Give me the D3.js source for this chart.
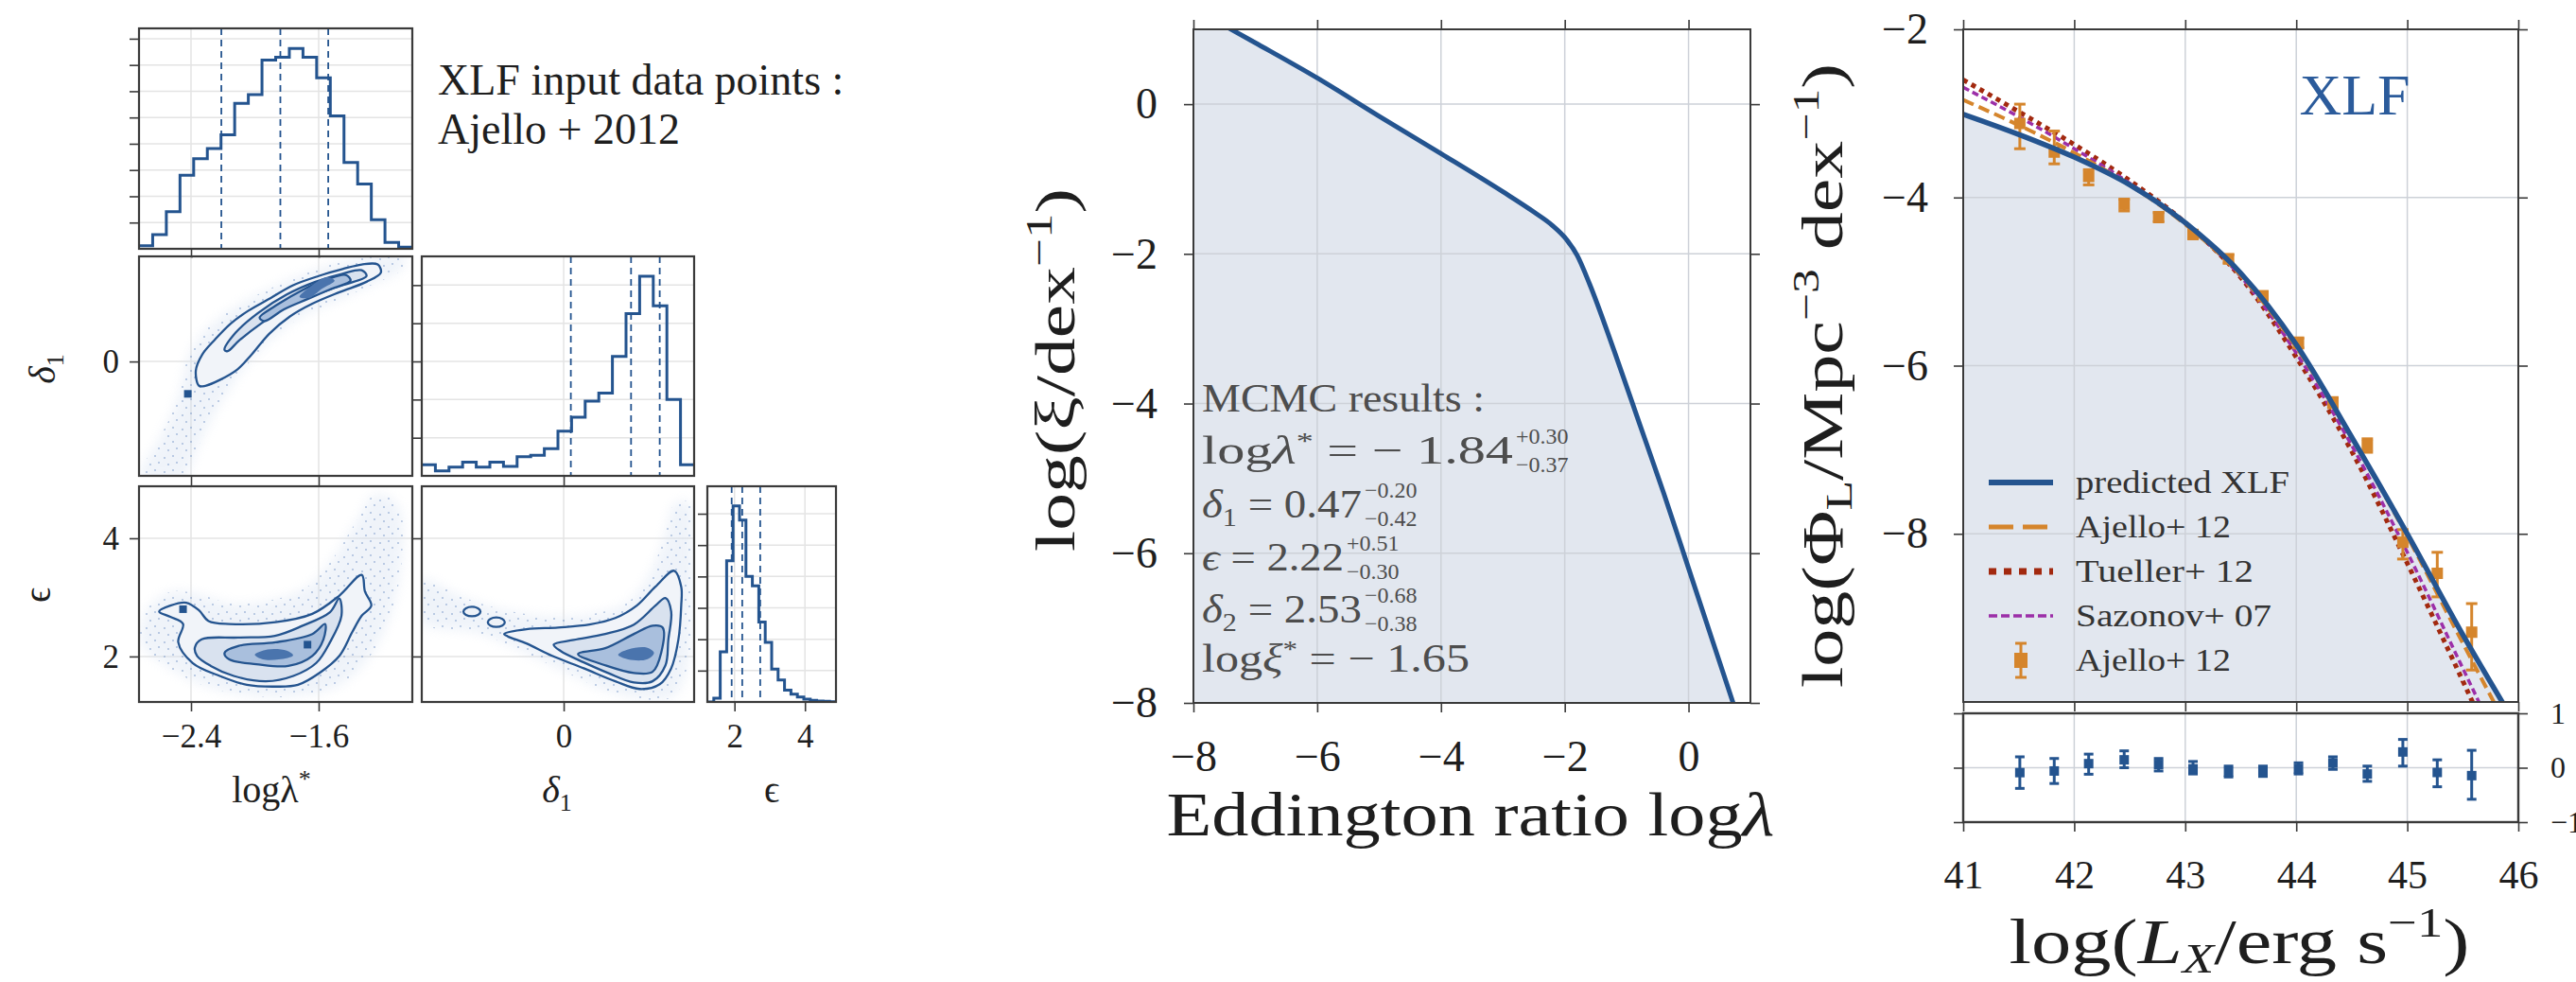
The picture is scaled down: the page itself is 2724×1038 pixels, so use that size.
<!DOCTYPE html>
<html><head><meta charset="utf-8">
<script src="https://cdn.jsdelivr.net/npm/d3@7"></script>
<style>
html,body{margin:0;padding:0;background:#fff;}
svg text{font-family:"Liberation Serif","DejaVu Serif",serif;}
</style></head>
<body>
<svg id="fig" width="2724" height="1038" xmlns="http://www.w3.org/2000/svg"></svg>
<script>
// ======================= DATA =======================
// --- corner plot parameter ranges and ticks
const lamRange = [-2.726, -1.013];
const d1Range  = [-0.99, 0.91];
const epsRange = [1.23, 4.88];
const ticksLam = [-2.4, -1.6];
const ticksD1  = [0];
const ticksEps = [2, 4];
// --- 1D marginal histograms (20 equal bins over each range)
const histLam = [12,54,141,280,343,382,434,554,587,719,729,763,729,651,506,329,247,111,24,6];
const histD1  = [29,13,23,36,23,36,25,50,54,71,117,154,196,217,313,425,523,446,200,29];
const histEps = [0,12,160,450,625,580,400,370,255,190,105,70,38,25,16,9,5,3,2,1];
const countTicksLam = [100,200,300,400,500,600,700,800];
const countTicksD1  = [100,200,300,400,500];
const countTicksEps = [100,200,300,400,500,600];
const quantLam = [-2.21, -1.84, -1.54];
const quantD1  = [0.05, 0.47, 0.67];
const quantEps = [1.92, 2.22, 2.73];
// --- 2D posterior contours (logλ*, δ1)
const lamD1Halo  = [[-2.72,-0.99],[-2.62,-0.72],[-2.52,-0.45],[-2.46,-0.2],[-2.42,0.03],[-2.33,0.24],[-2.18,0.42],[-1.98,0.58],[-1.76,0.72],[-1.52,0.84],[-1.28,0.91],[-1.06,0.92],[-1.08,0.8],[-1.24,0.68],[-1.48,0.53],[-1.74,0.36],[-1.95,0.12],[-2.1,-0.12],[-2.24,-0.42],[-2.36,-0.75],[-2.44,-0.99]];
const lamD1Outer = [[-2.35,-0.21],[-2.37,-0.08],[-2.33,0.06],[-2.25,0.19],[-2.15,0.33],[-2.04,0.44],[-1.9,0.55],[-1.76,0.66],[-1.6,0.74],[-1.45,0.8],[-1.33,0.84],[-1.23,0.84],[-1.21,0.77],[-1.3,0.69],[-1.47,0.6],[-1.64,0.5],[-1.78,0.39],[-1.91,0.24],[-2.02,0.06],[-2.11,-0.07],[-2.22,-0.16],[-2.31,-0.21]];
const lamD1Mid   = [[-2.19,0.10],[-2.12,0.25],[-1.98,0.42],[-1.8,0.58],[-1.62,0.69],[-1.45,0.76],[-1.33,0.79],[-1.3,0.74],[-1.45,0.66],[-1.62,0.58],[-1.8,0.47],[-1.96,0.33],[-2.1,0.18],[-2.17,0.09]];
const lamD1Inner = [[-1.97,0.38],[-1.85,0.5],[-1.7,0.62],[-1.55,0.71],[-1.43,0.75],[-1.4,0.7],[-1.52,0.63],[-1.67,0.54],[-1.82,0.45],[-1.94,0.35]];
const lamD1Core  = [[-1.72,0.56],[-1.66,0.64],[-1.55,0.73],[-1.5,0.7],[-1.58,0.63],[-1.66,0.55]];
const lamD1Spots = [[-2.42,-0.28]];
// --- 2D posterior contours (logλ*, ε)
const lamEpsHalo  = [[-2.72,2.45],[-2.66,2.85],[-2.52,3.1],[-2.35,3.05],[-2.15,2.9],[-1.9,2.95],[-1.66,3.2],[-1.5,3.7],[-1.36,4.3],[-1.24,4.75],[-1.1,4.55],[-1.08,3.6],[-1.15,2.7],[-1.28,2.0],[-1.48,1.5],[-1.78,1.32],[-2.1,1.36],[-2.36,1.55],[-2.56,1.85],[-2.7,2.15]];
const lamEpsOuter = [[-2.60,2.76],[-2.53,2.86],[-2.43,2.91],[-2.35,2.78],[-2.29,2.6],[-2.16,2.55],[-1.87,2.58],[-1.64,2.72],[-1.47,3.03],[-1.33,3.38],[-1.31,3.1],[-1.27,2.86],[-1.33,2.69],[-1.39,2.41],[-1.47,2.01],[-1.59,1.73],[-1.73,1.52],[-1.87,1.49],[-2.05,1.52],[-2.22,1.67],[-2.39,1.89],[-2.48,2.24],[-2.45,2.55],[-2.53,2.67]];
const lamEpsMid   = [[-2.376,2.15],[-2.333,2.29],[-2.104,2.32],[-1.874,2.35],[-1.701,2.52],[-1.529,2.75],[-1.471,2.98],[-1.457,2.69],[-1.529,2.24],[-1.615,1.89],[-1.759,1.67],[-1.931,1.58],[-2.132,1.67],[-2.276,1.84],[-2.362,2.01]];
const lamEpsInner = [[-2.19,2.06],[-2.10,2.18],[-1.87,2.24],[-1.64,2.38],[-1.56,2.55],[-1.57,2.29],[-1.64,2.01],[-1.79,1.84],[-1.99,1.87],[-2.16,1.95]];
const lamEpsCore  = [[-2.0,2.03],[-1.92,2.12],[-1.8,2.1],[-1.76,2.02],[-1.85,1.95],[-1.95,1.95]];
const lamEpsSpots = [[-2.45,2.8],[-1.67,2.2]];
// --- 2D posterior contours (δ1, ε)
const d1EpsHalo  = [[-0.99,3.3],[-0.7,3.0],[-0.4,2.78],[-0.1,2.68],[0.2,2.72],[0.45,2.92],[0.6,3.4],[0.7,4.0],[0.78,4.6],[0.88,4.6],[0.9,3.8],[0.9,2.8],[0.86,1.8],[0.76,1.32],[0.55,1.28],[0.3,1.42],[0.0,1.75],[-0.3,2.1],[-0.6,2.4],[-0.99,2.58]];
const d1EpsOuter = [[-0.415,2.38],[-0.26,2.46],[-0.04,2.49],[0.18,2.54],[0.36,2.65],[0.51,2.86],[0.64,3.18],[0.77,3.45],[0.82,3.18],[0.82,2.86],[0.80,2.28],[0.75,1.80],[0.67,1.53],[0.53,1.45],[0.36,1.58],[0.14,1.80],[-0.08,2.01],[-0.26,2.22],[-0.39,2.34]];
const d1EpsMid   = [[-0.07,2.20],[0.07,2.28],[0.29,2.38],[0.49,2.54],[0.64,2.86],[0.71,2.99],[0.75,2.76],[0.73,2.28],[0.71,1.85],[0.62,1.58],[0.49,1.56],[0.31,1.72],[0.14,1.90],[-0.02,2.09]];
const d1EpsInner = [[0.10,2.04],[0.29,2.14],[0.49,2.38],[0.62,2.52],[0.69,2.49],[0.68,2.06],[0.62,1.74],[0.49,1.72],[0.29,1.85]];
const d1EpsCore  = [[0.38,2.03],[0.45,2.12],[0.58,2.15],[0.63,2.06],[0.58,1.95],[0.45,1.95]];
const d1EpsLoops = [[-0.64,2.76],[-0.47,2.58]];

// --- Eddington ratio distribution
const eddX   = [-8,-7,-6,-5,-4,-3,-2.5,-2.2,-2.0,-1.8,-1.6,-1.2,-0.8,-0.4,0,0.4,0.8];
const logXi  = [1.28,0.82,0.35,-0.16,-0.66,-1.17,-1.44,-1.62,-1.78,-2.02,-2.4,-3.3,-4.25,-5.2,-6.2,-7.2,-8.2];
const eddTicksX = [-8,-6,-4,-2,0];
const eddTicksY = [-8,-6,-4,-2,0];

// --- X-ray luminosity function
const xlfX    = [41.0,41.5,42.0,42.5,43.0,43.5,44.0,44.5,45.0,45.5,45.9];
const predXLF = [-3.01,-3.25,-3.52,-3.85,-4.30,-4.90,-5.75,-6.85,-8.0,-9.2,-10.1];
const modelX       = [41,41.5,42,42.5,43,43.5,44,44.5,45,45.5,45.9];
const ajelloModel  = [-2.84,-3.14,-3.47,-3.85,-4.32,-4.93,-5.78,-6.86,-8.03,-9.3,-10.3];
const tuellerModel = [-2.60,-2.98,-3.37,-3.80,-4.30,-4.95,-5.90,-7.02,-8.35,-9.75,-10.9];
const sazonovModel = [-2.69,-3.04,-3.42,-3.83,-4.31,-4.94,-5.85,-6.95,-8.22,-9.6,-10.7];
const dataX      = [41.51,41.82,42.13,42.45,42.76,43.07,43.39,43.70,44.02,44.33,44.64,44.96,45.27,45.58];
const ajelloData = [-3.12,-3.46,-3.75,-4.08,-4.23,-4.44,-4.73,-5.17,-5.73,-6.44,-6.95,-8.10,-8.47,-9.17];
const ajelloUp   = [0.23,0.25,0.08,0.06,0.05,0.05,0.05,0.05,0.06,0.06,0.08,0.15,0.25,0.34];
const ajelloDn   = [0.30,0.14,0.10,0.08,0.06,0.05,0.05,0.05,0.06,0.06,0.08,0.20,0.28,0.45];
const resid      = [-0.09,-0.06,0.075,0.145,0.06,-0.02,-0.075,-0.06,-0.02,0.087,-0.115,0.29,-0.087,-0.145];
const residUp    = [0.29,0.23,0.175,0.165,0.11,0.135,0.105,0.09,0.11,0.113,0.145,0.23,0.232,0.465];
const residDn    = [0.29,0.23,0.195,0.145,0.12,0.095,0.095,0.10,0.095,0.117,0.135,0.26,0.263,0.435];
const xlfTicksX = [41,42,43,44,45,46];
const xlfTicksY = [-8,-6,-4,-2];
const residTicks = [-1,0,1];
const legendLabels = ["predicted XLF","Ajello+ 12","Tueller+ 12","Sazonov+ 07","Ajello+ 12"];

// ======================= STYLE =======================
const BLUE="#24548f", SHADE="#e2e7ef", FRAME="#3a3a3a", TXT="#1e1e1e";
const GRIDC="#e4e4e4", GRIDS="#cdd1d8";
const ORANGE="#d5852c", DRED="#a2290f", PURPLE="#9c2fa8";

const svg=d3.select("#fig");
const defs=svg.append("defs");
defs.append("filter").attr("id","blur").append("feGaussianBlur").attr("stdDeviation",6);
const pat=defs.append("pattern").attr("id","speck").attr("width",19).attr("height",15).attr("patternUnits","userSpaceOnUse");
[[2,3],[11,1],[6,10],[15,8]].forEach(d=>pat.append("rect").attr("x",d[0]).attr("y",d[1]).attr("width",2).attr("height",2).attr("fill","#6a8cc2").attr("opacity",0.5));

let clipN=0;
function panel(xs, ys){
  const [x0,x1]=xs.range(); const y1=ys.range()[0], y0=ys.range()[1];
  const id="clip"+(clipN++);
  defs.append("clipPath").attr("id",id).append("rect").attr("x",x0).attr("y",y0).attr("width",x1-x0).attr("height",y1-y0);
  const g=svg.append("g");
  const inner=g.append("g").attr("clip-path",`url(#${id})`);
  return {g,inner,x0,x1,y0,y1,xs,ys};
}
function grid(p, xv, yv, color){
  xv.forEach(v=>p.inner.append("line").attr("x1",p.xs(v)).attr("x2",p.xs(v)).attr("y1",p.y0).attr("y2",p.y1).attr("stroke",color).attr("stroke-width",1.5));
  yv.forEach(v=>p.inner.append("line").attr("y1",p.ys(v)).attr("y2",p.ys(v)).attr("x1",p.x0).attr("x2",p.x1).attr("stroke",color).attr("stroke-width",1.5));
}
function box(p,w){ p.g.append("rect").attr("x",p.x0).attr("y",p.y0).attr("width",p.x1-p.x0).attr("height",p.y1-p.y0).attr("fill","none").attr("stroke",FRAME).attr("stroke-width",w||2.2); }
function axis(p, side, scale, values, o={}){
  const ax = side==="bottom"?d3.axisBottom(scale): side==="top"?d3.axisTop(scale): side==="left"?d3.axisLeft(scale):d3.axisRight(scale);
  ax.tickValues(values).tickSize(o.size??10).tickPadding(o.pad??8);
  if(o.noLabel) ax.tickFormat(""); else if(o.fmt) ax.tickFormat(o.fmt);
  const tr = side==="bottom"?`translate(0,${p.y1})`: side==="top"?`translate(0,${p.y0})`: side==="left"?`translate(${p.x0},0)`:`translate(${p.x1},0)`;
  const g=p.g.append("g").attr("transform",tr).call(ax);
  g.select(".domain").remove();
  g.selectAll(".tick line").attr("stroke",FRAME).attr("stroke-width",1.6);
  g.selectAll(".tick text").attr("font-size",o.fs||35).attr("fill",TXT).attr("font-family","Liberation Serif");
  return g;
}
function hist(p, counts, quant){
  const [d0,d1]=p.xs.domain(); const n=counts.length; const w=(d1-d0)/n;
  const pts=counts.map((c,i)=>[d0+i*w,c]); pts.push([d1,counts[n-1]]);
  p.inner.append("path").attr("d",d3.line().x(d=>p.xs(d[0])).y(d=>p.ys(d[1])).curve(d3.curveStepAfter)(pts))
    .attr("fill","none").attr("stroke",BLUE).attr("stroke-width",3).attr("stroke-linejoin","miter");
  quant.forEach(q=>p.inner.append("line").attr("x1",p.xs(q)).attr("x2",p.xs(q)).attr("y1",p.y0).attr("y2",p.y1)
    .attr("stroke",BLUE).attr("stroke-width",1.8).attr("stroke-dasharray","7,5"));
}
function blob(p, pts, fill, stroke, sw, extra){
  const line=d3.line().x(d=>p.xs(d[0])).y(d=>p.ys(d[1])).curve(d3.curveCatmullRomClosed.alpha(0.5));
  const el=p.inner.append("path").attr("d",line(pts)).attr("fill",fill).attr("stroke",stroke||"none").attr("stroke-width",sw||0).attr("stroke-linejoin","round");
  if(extra) extra(el);
  return el;
}
function density(p, halo, outer, mid, inner, core, spots){
  blob(p, halo, "#d3dff0", null, 0, e=>e.attr("filter","url(#blur)").attr("opacity",0.35));
  blob(p, halo, "url(#speck)", null, 0, e=>e.attr("opacity",0.8));
  blob(p, outer, "#f1f4f9", BLUE, 2.3);
  blob(p, mid, "#d9e2ef", BLUE, 2.3);
  blob(p, inner, "#a9bfdd", BLUE, 2.3);
  blob(p, core, "#4a74ad", null, 0);
  spots.forEach(s=>p.inner.append("rect").attr("x",p.xs(s[0])-4).attr("y",p.ys(s[1])-4).attr("width",8).attr("height",8).attr("fill",BLUE));
}

// ======================= CORNER PLOT =======================
const cols=[[147,436],[446,734],[748,884]], rows=[[30,263],[271,503],[514,742]];
const xLam=d3.scaleLinear(lamRange,cols[0]), xD1=d3.scaleLinear(d1Range,cols[1]), xEps=d3.scaleLinear(epsRange,cols[2]);
const yD1=d3.scaleLinear(d1Range,[rows[1][1],rows[1][0]]), yEps=d3.scaleLinear(epsRange,[rows[2][1],rows[2][0]]);
const f1=d3.format(".1f"), f0=d3.format("d");

// row 1: logλ* histogram
{ const ys=d3.scaleLinear([0,1.1*d3.max(histLam)],[rows[0][1],rows[0][0]]);
  const p=panel(xLam,ys); grid(p,ticksLam,countTicksLam,GRIDC); hist(p,histLam,quantLam); box(p);
  axis(p,"left",ys,countTicksLam,{noLabel:true}); axis(p,"bottom",xLam,ticksLam,{noLabel:true}); }
// row 2: (logλ*, δ1) and δ1 histogram
{ const p=panel(xLam,yD1); grid(p,ticksLam,ticksD1,GRIDC);
  density(p,lamD1Halo,lamD1Outer,lamD1Mid,lamD1Inner,lamD1Core,lamD1Spots); box(p);
  axis(p,"left",yD1,ticksD1,{fmt:f0,fs:35,pad:11}); axis(p,"bottom",xLam,ticksLam,{noLabel:true}); }
{ const ys=d3.scaleLinear([0,1.1*d3.max(histD1)],[rows[1][1],rows[1][0]]);
  const p=panel(xD1,ys); grid(p,ticksD1,countTicksD1,GRIDC); hist(p,histD1,quantD1); box(p);
  axis(p,"left",ys,countTicksD1,{noLabel:true}); axis(p,"bottom",xD1,ticksD1,{noLabel:true}); }
// row 3
{ const p=panel(xLam,yEps); grid(p,ticksLam,ticksEps,GRIDC);
  density(p,lamEpsHalo,lamEpsOuter,lamEpsMid,lamEpsInner,lamEpsCore,lamEpsSpots); box(p);
  axis(p,"left",yEps,ticksEps,{fmt:f0,fs:35,pad:11}); axis(p,"bottom",xLam,ticksLam,{fmt:f1,fs:35,pad:13}); }
{ const p=panel(xD1,yEps); grid(p,ticksD1,ticksEps,GRIDC);
  density(p,d1EpsHalo,d1EpsOuter,d1EpsMid,d1EpsInner,d1EpsCore,[]);
  d1EpsLoops.forEach(l=>p.inner.append("ellipse").attr("cx",xD1(l[0])).attr("cy",yEps(l[1])).attr("rx",9).attr("ry",5).attr("fill","#eef2f8").attr("stroke",BLUE).attr("stroke-width",2.3));
  box(p);
  axis(p,"left",yEps,ticksEps,{noLabel:true}); axis(p,"bottom",xD1,ticksD1,{fmt:f0,fs:35,pad:13}); }
{ const ys=d3.scaleLinear([0,1.1*d3.max(histEps)],[rows[2][1],rows[2][0]]);
  const p=panel(xEps,ys); grid(p,ticksEps,countTicksEps,GRIDC); hist(p,histEps,quantEps); box(p);
  axis(p,"left",ys,countTicksEps,{noLabel:true}); axis(p,"bottom",xEps,ticksEps,{fmt:f0,fs:35,pad:13}); }

// corner labels
function txt(x,y,s,o={}){
  const t=svg.append("text").attr("x",x).attr("y",y).attr("font-size",o.fs||40).attr("fill",o.fill||TXT)
    .attr("text-anchor",o.anchor||"start");
  if(o.rot) t.attr("transform",`rotate(${o.rot},${x},${y})`);
  if(o.len) t.attr("textLength",o.len).attr("lengthAdjust","spacingAndGlyphs");
  if(o.style) t.attr("font-style",o.style);
  if(typeof s==="string") t.text(s);
  else s.forEach(part=>{ const sp=t.append("tspan").text(part.t);
    if(part.dy) sp.attr("dy",part.dy); if(part.fs) sp.attr("font-size",part.fs); if(part.it) sp.attr("font-style","italic"); });
  return t;
}
txt(287,848,[{t:"logλ"},{t:"*",dy:-16,fs:26},{t:"",dy:16}],{anchor:"middle",fs:40});
txt(589,848,[{t:"δ",it:true},{t:"1",dy:9,fs:26}],{anchor:"middle",fs:40});
txt(816,848,"ϵ",{anchor:"middle",fs:40});
txt(58,390,[{t:"δ",it:true},{t:"1",dy:9,fs:26}],{anchor:"middle",fs:40,rot:-90});
txt(53,629,"ϵ",{anchor:"middle",fs:40,rot:-90});
txt(463,100,"XLF input data points :",{fs:46});
txt(463,152,"Ajello + 2012",{fs:46});

// ======================= EDDINGTON RATIO PANEL =======================
const xE=d3.scaleLinear([-8,1],[1262,1851]), yE=d3.scaleLinear([-8,1],[743,31]);
{ const p=panel(xE,yE);
  const pts=eddX.map((x,i)=>[x,logXi[i]]);
  p.inner.append("path").attr("d",d3.area().x(d=>xE(d[0])).y0(743).y1(d=>yE(d[1])).curve(d3.curveMonotoneX)(pts)).attr("fill",SHADE);
  grid(p,eddTicksX,eddTicksY,GRIDS);
  p.inner.append("path").attr("d",d3.line().x(d=>xE(d[0])).y(d=>yE(d[1])).curve(d3.curveMonotoneX)(pts))
    .attr("fill","none").attr("stroke",BLUE).attr("stroke-width",5);
  box(p,2);
  axis(p,"bottom",xE,eddTicksX,{fmt:f0,fs:46,pad:29});
  axis(p,"left",yE,eddTicksY,{fmt:f0,fs:46,pad:28});
  axis(p,"top",xE,eddTicksX,{noLabel:true});
  axis(p,"right",yE,eddTicksY,{noLabel:true});
}
txt(1555,883,[{t:"Eddington ratio log"},{t:"λ",it:true}],{anchor:"middle",fs:66,len:643});
txt(1136,391,[{t:"log(ξ/dex"},{t:"−1",dy:-24,fs:40},{t:")",dy:24}],{anchor:"middle",fs:60,rot:-90,len:384});
// MCMC results block
const MC="#4d4d4d";
function mcLine(y, parts, sup, sub, len){
  const t=txt(1271,y,parts,{fs:42,fill:MC,len:len});
  if(sup!==null){
    const w=t.node().getBBox(); const x=w.x+w.width+3;
    txt(x,y-21,sup,{fs:24,fill:MC}); txt(x,y+9,sub,{fs:24,fill:MC});
  }
}
txt(1271,435,"MCMC results :",{fs:42,fill:MC,len:299});
mcLine(490,[{t:"log"},{t:"λ",it:true},{t:"*",dy:-15,fs:26},{t:" = − 1.84",dy:15}],"+0.30","−0.37",329);
mcLine(547,[{t:"δ",it:true},{t:"1",dy:9,fs:27},{t:" = 0.47",dy:-9}],"−0.20","−0.42",169);
mcLine(603,[{t:"ϵ",it:true},{t:" = 2.22"}],"+0.51","−0.30",150);
mcLine(658,[{t:"δ",it:true},{t:"2",dy:9,fs:27},{t:" = 2.53",dy:-9}],"−0.68","−0.38",169);
mcLine(710,[{t:"log"},{t:"ξ",it:true},{t:"*",dy:-15,fs:26},{t:" = − 1.65",dy:15}],null,null,283);

// ======================= XLF PANEL =======================
const xR=d3.scaleLinear([41,46],[2076,2663]), yR=d3.scaleLinear([-10,-2],[742,31]);
const yRes=d3.scaleLinear([-1,1],[869,754]);
{ const p=panel(xR,yR);
  const pts=xlfX.map((x,i)=>[x,predXLF[i]]);
  p.inner.append("path").attr("d",d3.area().x(d=>xR(d[0])).y0(742).y1(d=>yR(d[1])).curve(d3.curveMonotoneX)(pts)).attr("fill",SHADE);
  grid(p,[42,43,44,45],[-8,-6,-4],GRIDS);
  const ln=(arr)=>d3.line().x((d,i)=>xR(modelX[i])).y(d=>yR(d)).curve(d3.curveMonotoneX)(arr);
  p.inner.append("path").attr("d",ln(tuellerModel)).attr("fill","none").attr("stroke",DRED).attr("stroke-width",5).attr("stroke-dasharray","5,5");
  p.inner.append("path").attr("d",ln(sazonovModel)).attr("fill","none").attr("stroke",PURPLE).attr("stroke-width",3.5).attr("stroke-dasharray","7,4");
  p.inner.append("path").attr("d",ln(ajelloModel)).attr("fill","none").attr("stroke",ORANGE).attr("stroke-width",4).attr("stroke-dasharray","12,6");
  // data with error bars
  dataX.forEach((x,i)=>{
    const cx=xR(x), yt=yR(ajelloData[i]+ajelloUp[i]), yb=yR(ajelloData[i]-ajelloDn[i]);
    p.inner.append("line").attr("x1",cx).attr("x2",cx).attr("y1",yt).attr("y2",yb).attr("stroke",ORANGE).attr("stroke-width",3);
    [yt,yb].forEach(yy=>p.inner.append("line").attr("x1",cx-6).attr("x2",cx+6).attr("y1",yy).attr("y2",yy).attr("stroke",ORANGE).attr("stroke-width",3));
    p.inner.append("rect").attr("x",cx-6).attr("y",yR(ajelloData[i])-6).attr("width",12).attr("height",12).attr("fill",ORANGE);
  });
  p.inner.append("path").attr("d",d3.line().x(d=>xR(d[0])).y(d=>yR(d[1])).curve(d3.curveMonotoneX)(pts))
    .attr("fill","none").attr("stroke",BLUE).attr("stroke-width",5.5);
  // legend
  const lx0=2103, lx1=2171, tx=2195, ly=[510,557,604,651,698], lens=[226,164,188,207,164];
  const lg=p.g.append("g");
  lg.append("line").attr("x1",lx0).attr("x2",lx1).attr("y1",ly[0]).attr("y2",ly[0]).attr("stroke",BLUE).attr("stroke-width",6);
  lg.append("line").attr("x1",lx0).attr("x2",lx1).attr("y1",ly[1]).attr("y2",ly[1]).attr("stroke",ORANGE).attr("stroke-width",5).attr("stroke-dasharray","26,10");
  lg.append("line").attr("x1",lx0).attr("x2",lx1).attr("y1",ly[2]).attr("y2",ly[2]).attr("stroke",DRED).attr("stroke-width",7).attr("stroke-dasharray","8,8");
  lg.append("line").attr("x1",lx0).attr("x2",lx1).attr("y1",ly[3]).attr("y2",ly[3]).attr("stroke",PURPLE).attr("stroke-width",3.5).attr("stroke-dasharray","9,4");
  const mx=(lx0+lx1)/2;
  lg.append("line").attr("x1",mx).attr("x2",mx).attr("y1",ly[4]-18).attr("y2",ly[4]+18).attr("stroke",ORANGE).attr("stroke-width",3);
  [ly[4]-18,ly[4]+18].forEach(yy=>lg.append("line").attr("x1",mx-6).attr("x2",mx+6).attr("y1",yy).attr("y2",yy).attr("stroke",ORANGE).attr("stroke-width",3));
  lg.append("rect").attr("x",mx-7).attr("y",ly[4]-8).attr("width",14).attr("height",16).attr("fill",ORANGE);
  legendLabels.forEach((s,i)=>txt(tx,ly[i]+11,s,{fs:34,fill:"#333",len:lens[i]}));
  box(p,2);
  axis(p,"left",yR,xlfTicksY,{fmt:f0,fs:46,pad:27});
  axis(p,"right",yR,xlfTicksY,{noLabel:true});
  axis(p,"top",xR,xlfTicksX,{noLabel:true});
  axis(p,"bottom",xR,xlfTicksX,{noLabel:true});
}
txt(2490,121,"XLF",{anchor:"middle",fs:62,fill:"#2b5b9b"});
// residual panel
{ const p=panel(xR,yRes);
  grid(p,[42,43,44,45],[0],GRIDS);
  dataX.forEach((x,i)=>{
    const cx=xR(x), yt=yRes(resid[i]+residUp[i]), yb=yRes(resid[i]-residDn[i]);
    p.inner.append("line").attr("x1",cx).attr("x2",cx).attr("y1",yt).attr("y2",yb).attr("stroke",BLUE).attr("stroke-width",3);
    [yt,yb].forEach(yy=>p.inner.append("line").attr("x1",cx-5).attr("x2",cx+5).attr("y1",yy).attr("y2",yy).attr("stroke",BLUE).attr("stroke-width",3));
    p.inner.append("rect").attr("x",cx-5).attr("y",yRes(resid[i])-5).attr("width",10).attr("height",10).attr("fill",BLUE);
  });
  box(p,2.4);
  axis(p,"left",yRes,residTicks,{noLabel:true});
  axis(p,"right",yRes,residTicks,{fmt:f0,fs:32,pad:24}).selectAll(".tick text").attr("text-anchor","start");
  axis(p,"bottom",xR,xlfTicksX,{fmt:f0,fs:42,pad:30});
}
txt(2368,1018,[{t:"log("},{t:"L",it:true},{t:"X",it:true,dy:10,fs:44},{t:"/erg s",dy:-10},{t:"−1",dy:-28,fs:44},{t:")",dy:28}],{anchor:"middle",fs:68,len:487});
txt(1948,397,[{t:"log(Φ"},{t:"L",dy:10,fs:40},{t:"/Mpc",dy:-10},{t:"−3",dy:-25,fs:40},{t:" dex",dy:25},{t:"−1",dy:-25,fs:40},{t:")",dy:25}],{anchor:"middle",fs:62,rot:-90,len:660});
</script>
</body></html>
